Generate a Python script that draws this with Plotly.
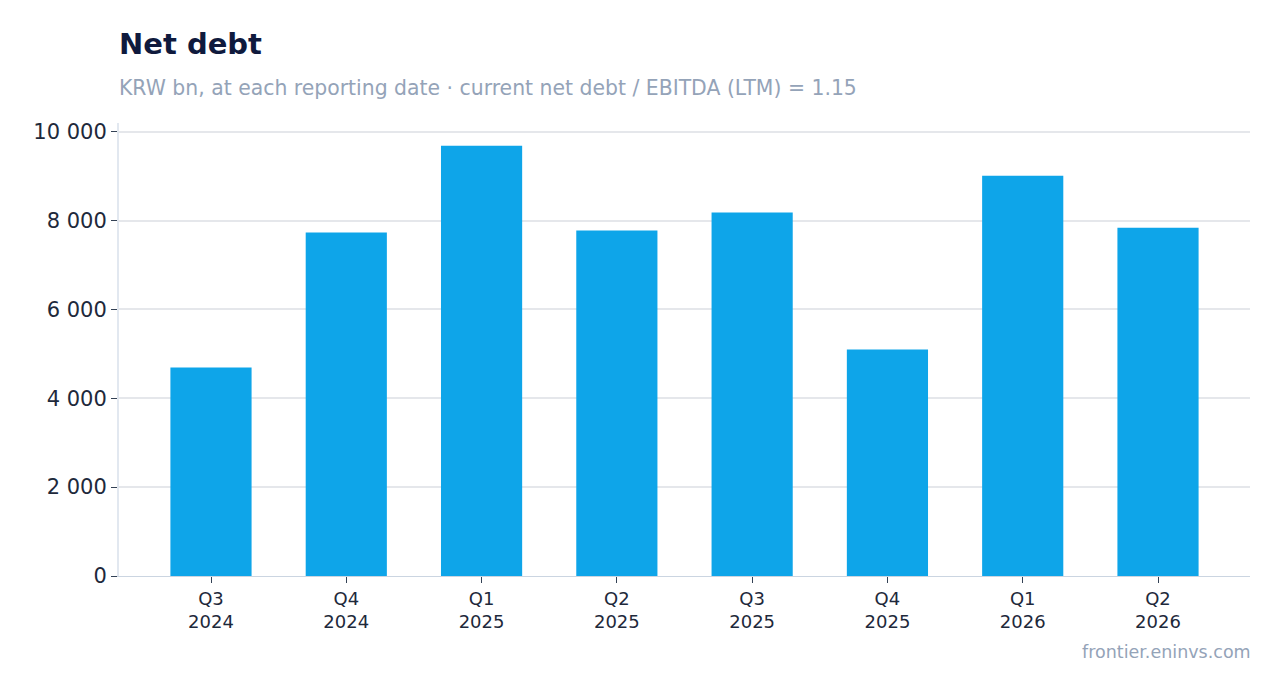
import plotly.graph_objects as go

quarters = ["Q3<br>2024", "Q4<br>2024", "Q1<br>2025", "Q2<br>2025",
            "Q3<br>2025", "Q4<br>2025", "Q1<br>2026", "Q2<br>2026"]
net_debt = [4690, 7730, 9685, 7775, 8180, 5095, 9010, 7840]

title_text = "Net debt"
subtitle_text = "KRW bn, at each reporting date · current net debt / EBITDA (LTM) = 1.15"
source_text = "frontier.eninvs.com"

# page body adds an 8px offset, so figure coords = screen coords - 8
W, H = 1281, 693
L, T, R, B = 111, 115, 39, 125
plot_h = H - T - B

fig = go.Figure()
fig.add_trace(go.Bar(x=quarters, y=net_debt, marker_color="#0ea5e9",
                     marker_line_width=0, hovertemplate="%{y:,.0f}<extra></extra>"))

fig.update_layout(
    width=W, height=H,
    margin=dict(l=L, r=R, t=T, b=B),
    paper_bgcolor="white", plot_bgcolor="white",
    font=dict(family="DejaVu Sans", color="#1e293b"),
    separators=". ",
    bargap=0.4,
    showlegend=False,
    title=dict(text="<b>" + title_text + "</b>", x=L / W, xanchor="left",
               y=1 - 36 / H, yanchor="middle",
               font=dict(size=29, color="#0f1a3d")),
)

fig.add_annotation(text=subtitle_text, xref="paper", yref="paper",
                   x=0, y=1 + (T - 80) / plot_h, xanchor="left", yanchor="middle",
                   xshift=-2, showarrow=False, font=dict(size=20.4, color="#94a3b8"))
fig.add_annotation(text=source_text, xref="paper", yref="paper",
                   x=1, y=-(644 - (H - B)) / plot_h, xanchor="right", yanchor="middle",
                   xshift=3, showarrow=False, font=dict(size=17.5, color="#94a3b8"))

fig.update_xaxes(showline=True, linecolor="#cbd5e1", linewidth=1,
                 range=[-0.68, 7.68],
                 ticks="outside", ticklen=6, tickcolor="#334155",
                 tickfont=dict(size=18, color="#1e293b"), showgrid=False)
fig.update_yaxes(showline=True, linecolor="#e2e8f0", linewidth=2,
                 ticks="outside", ticklen=6, tickcolor="#334155",
                 tickformat=",", dtick=2000,
                 gridcolor="#e5e7eb", gridwidth=1.5, zeroline=False,
                 tickfont=dict(size=21, color="#1e293b"))

fig.write_html("out.html")
